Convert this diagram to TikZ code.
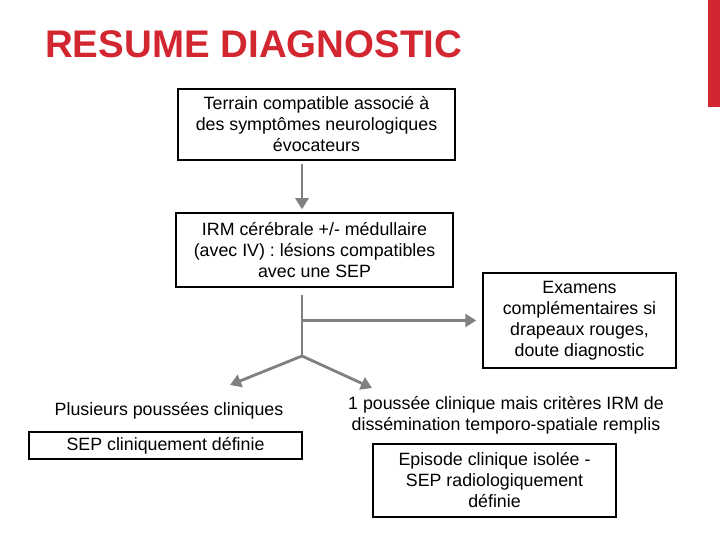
\documentclass[tikz,border=0pt]{standalone}
\usepackage{fontspec}
\setmainfont{Liberation Sans}
\usepackage{xcolor}
\usetikzlibrary{arrows.meta,positioning,calc}

\definecolor{titlered}{RGB}{210,38,48}
\definecolor{arrgray}{RGB}{128,128,128}

\begin{document}
\begin{tikzpicture}[
   x=1pt, y=-1pt,
   font=\fontsize{17.8}{21}\selectfont,
   box/.style={rectangle, draw=black, line width=1.5pt, align=center,
               inner sep=2pt},
   plain/.style={align=center, inner sep=0pt},
   arr/.style={-{Triangle[length=11pt, width=13pt]}, draw=arrgray,
               line width=2.8pt}
]
\useasboundingbox (0,0) rectangle (720,540);
% Title and side bar
\node[anchor=west, inner sep=0pt, text=titlered,
      font=\fontsize{38.5}{42}\selectfont\bfseries] (title) at (45,44)
     {RESUME DIAGNOSTIC};
\fill[titlered] (708,0) rectangle (720,107);
% Boxes
\node[box, minimum width=277pt, minimum height=71pt] (terrain) at (316.5,124.5)
     {Terrain compatible associé à\\des symptômes neurologiques\\évocateurs};
\node[box, minimum width=277pt, minimum height=74pt] (irm) at (314.5,250)
     {IRM cérébrale +/- médullaire\\(avec IV) : lésions compatibles\\avec une SEP};
\node[box, minimum width=193pt, minimum height=95pt] (examens) at (579.5,320.5)
     {Examens\\complémentaires si\\drapeaux rouges,\\doute diagnostic};
\node[plain] (pousseesL) at (169,411) {Plusieurs poussées cliniques};
\node[box, minimum width=273pt, minimum height=27pt] (sepcd) at (165.5,445.5)
     {SEP cliniquement définie};
\node[plain] (pousseeR) at (506,415.5)
     {1 poussée clinique mais critères IRM de\\dissémination temporo-spatiale remplis};
\node[box, minimum width=243pt, minimum height=73pt] (episode) at (494.5,480.5)
     {Episode clinique isolée -\\SEP radiologiquement\\définie};
% Connectors
\coordinate (split) at (302,356);
\coordinate (tipL) at (230,385);
\coordinate (tipR) at (372,388);
\draw[arr, shorten <=3pt, shorten >=3pt] (terrain.south -| split) -- (irm.north -| split);
\draw[arrgray, line width=2.8pt, shorten <=7pt] (irm.south -| split) -- (split);
\draw[arr, shorten >=6pt] (split |- examens.west) -- (examens.west);
\draw[arr] (split) -- (tipL);
\draw[arr] (split) -- (tipR);
\end{tikzpicture}
\end{document}
